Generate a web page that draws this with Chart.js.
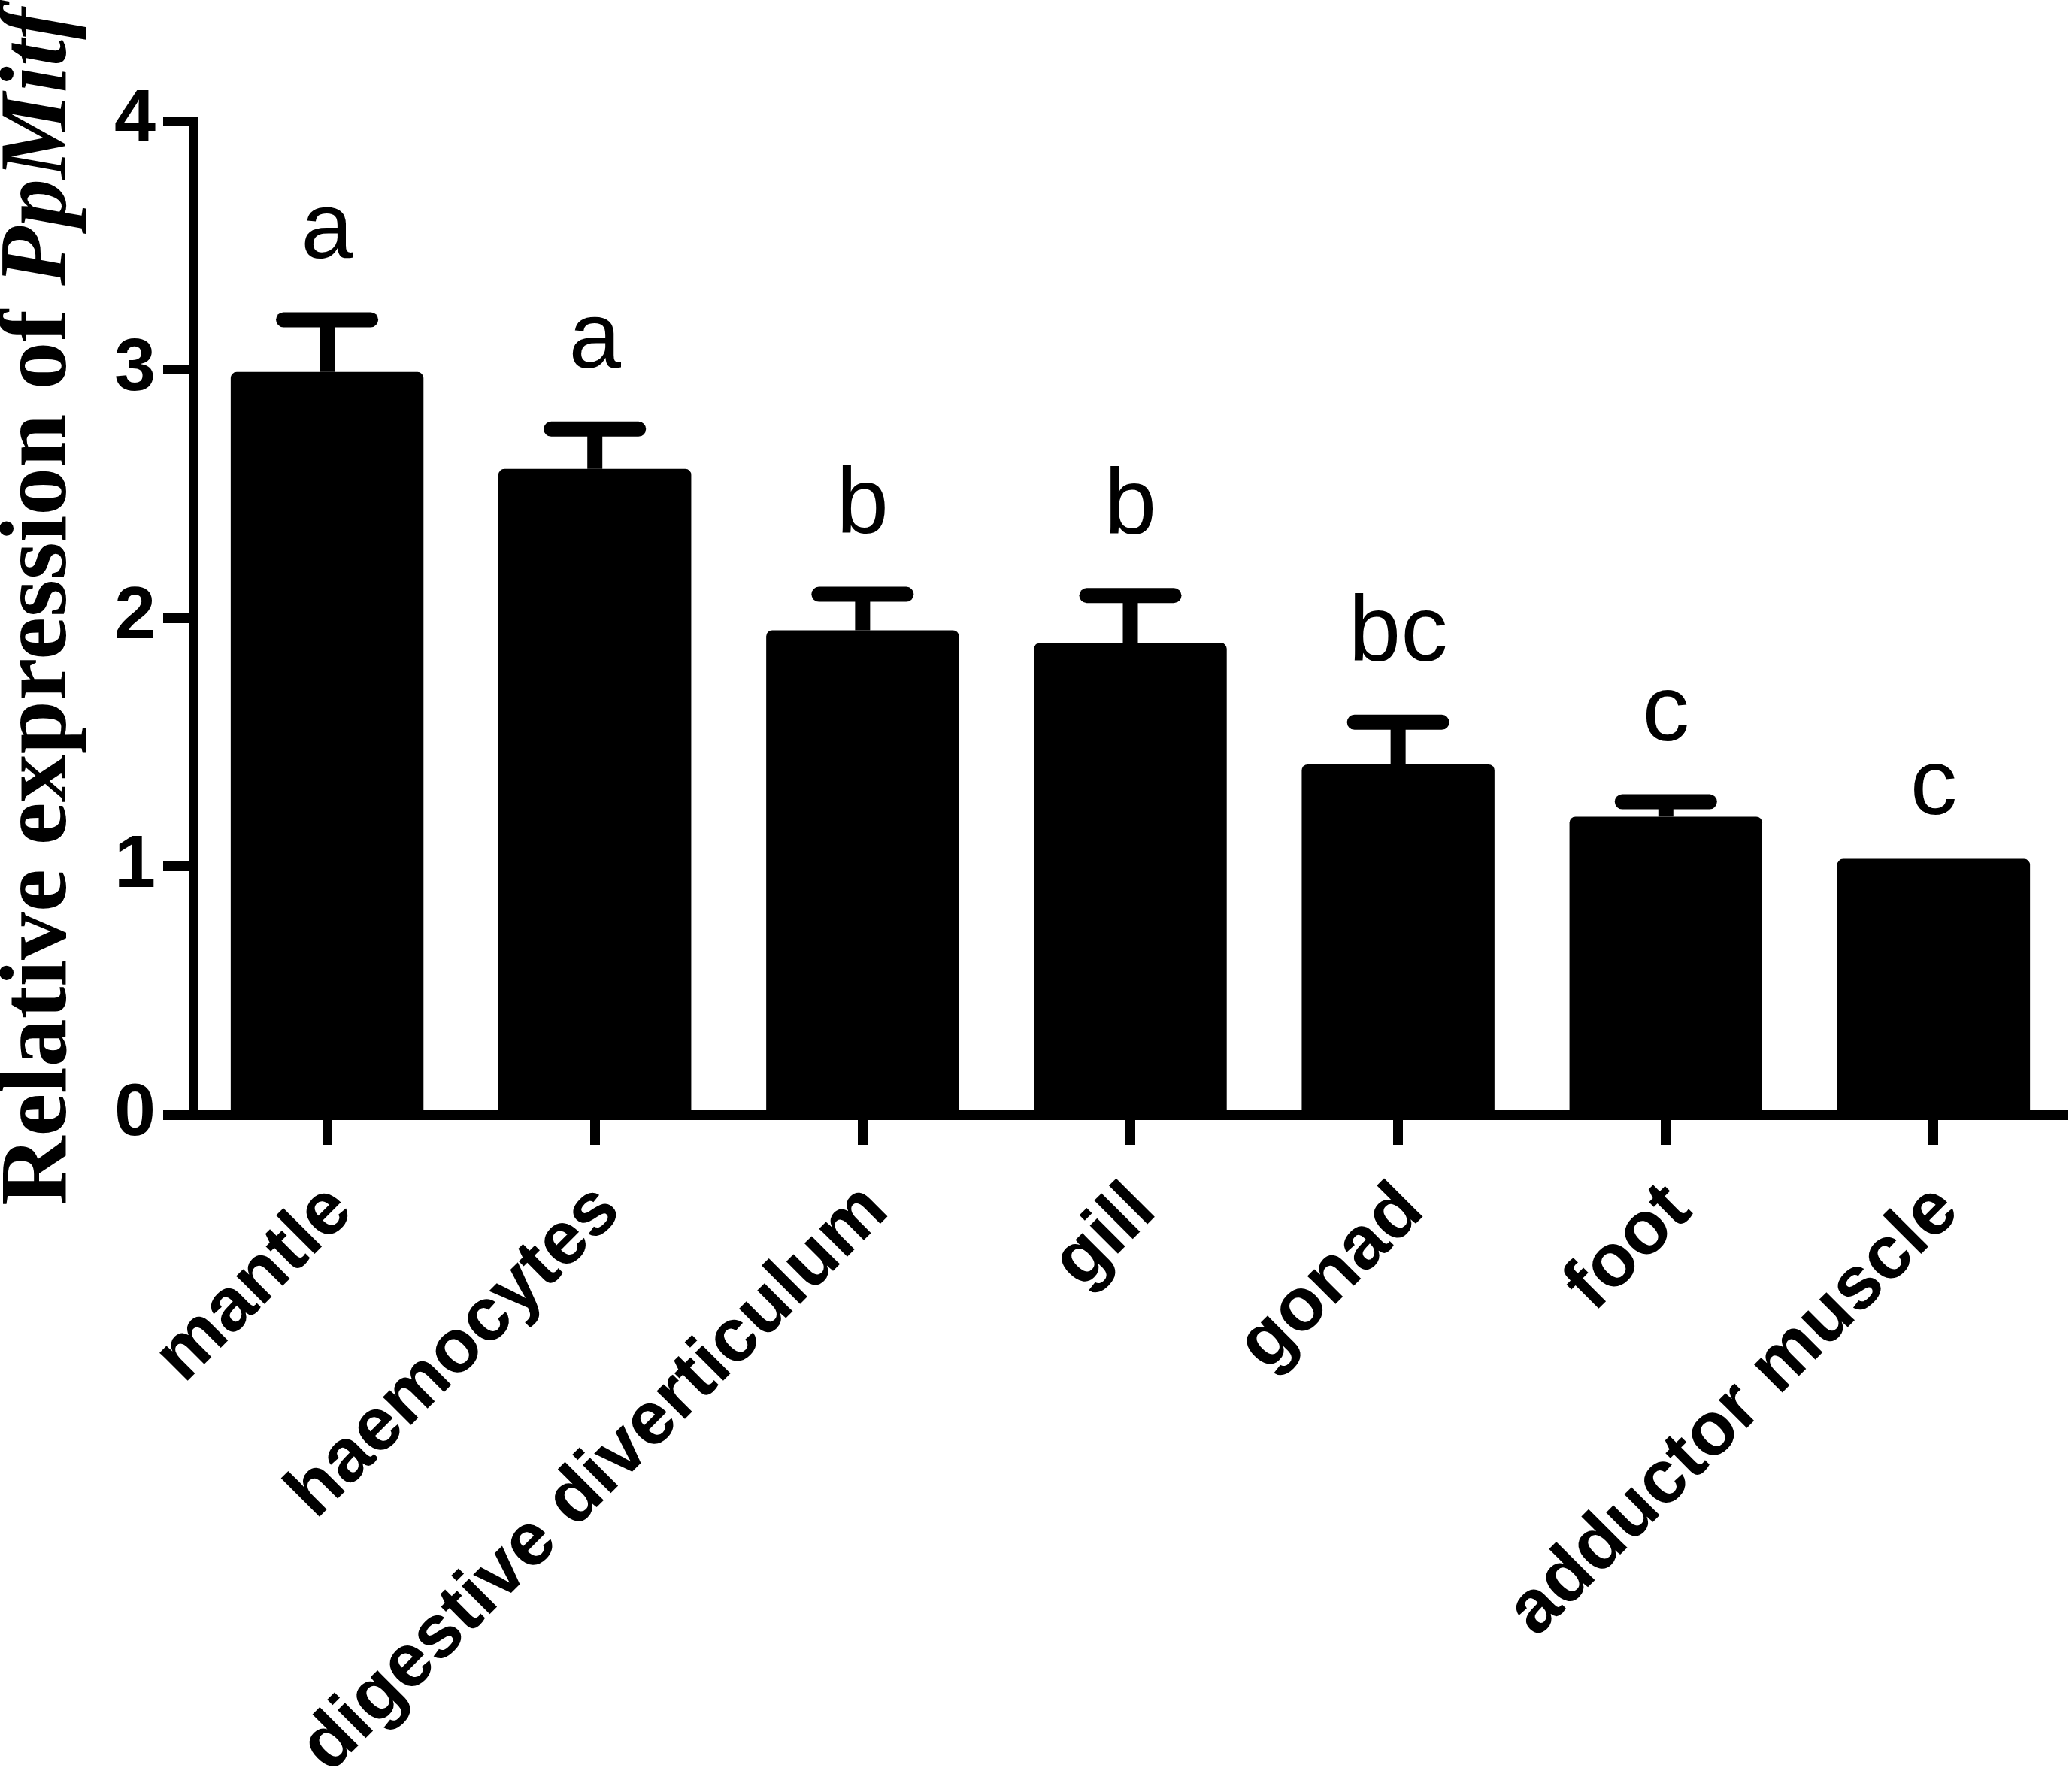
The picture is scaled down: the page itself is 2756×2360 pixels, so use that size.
<!DOCTYPE html>
<html>
<head>
<meta charset="utf-8">
<script src="https://cdn.jsdelivr.net/npm/chart.js@4.4.1/dist/chart.umd.min.js"></script>
<style>
  html, body { margin: 0; padding: 0; background: #fff; }
  #wrap { width: 2756px; height: 2360px; }
</style>
</head>
<body>
<div id="wrap"><canvas id="chart" width="2756" height="2360"></canvas></div>
<script>
// tissue distribution of PpMitf expression
const tissues = ['mantle', 'haemocytes', 'digestive diverticulum', 'gill', 'gonad', 'foot', 'adductor muscle'];
const means = [2.99, 2.60, 1.95, 1.90, 1.41, 1.20, 1.03];
const sds = [0.21, 0.16, 0.145, 0.19, 0.17, 0.06, 0];
const letters = ['a', 'a', 'b', 'b', 'bc', 'c', 'c'];
const yTicks = [0, 1, 2, 3, 4];
const titleMain = 'Relative expression of ';
const titleGene = 'PpMitf';

// error bars + significance letters on top of each bar
const errorBars = {
    id: 'errorBars',
    afterDatasetsDraw(chart) {
        const ctx = chart.ctx;
        const y = chart.scales.y;
        const meta = chart.getDatasetMeta(0);
        ctx.save();
        ctx.strokeStyle = '#000';
        ctx.fillStyle = '#000';
        ctx.lineWidth = 20;
        meta.data.forEach((bar, i) => {
            const top = y.getPixelForValue(means[i] + sds[i]);
            if (sds[i] > 0) {
                ctx.lineCap = 'butt';
                ctx.beginPath();
                ctx.moveTo(bar.x, bar.y);
                ctx.lineTo(bar.x, top);
                ctx.stroke();
                ctx.lineCap = 'round';
                ctx.beginPath();
                ctx.moveTo(bar.x - 58, top);
                ctx.lineTo(bar.x + 58, top);
                ctx.stroke();
            }
            ctx.font = '125px "Liberation Sans", Arial, sans-serif';
            ctx.textAlign = 'center';
            ctx.textBaseline = 'alphabetic';
            ctx.fillText(letters[i], bar.x, top - (sds[i] > 0 ? 82 : 60));
        });
        ctx.restore();
    }
};

// y title with the gene name in italics
const yTitle = {
    id: 'yTitle',
    afterDraw(chart) {
        const ctx = chart.ctx;
        const area = chart.chartArea;
        ctx.save();
        ctx.font = 'bold 128px "Liberation Serif", "Times New Roman", serif';
        const w1 = ctx.measureText(titleMain).width;
        ctx.font = 'italic bold 128px "Liberation Serif", "Times New Roman", serif';
        const w2 = ctx.measureText(titleGene).width;
        const mid = (area.top + area.bottom) / 2 - 15;
        ctx.translate(area.left - 170, mid + (w1 + w2) / 2);
        ctx.rotate(-Math.PI / 2);
        ctx.fillStyle = '#000';
        ctx.textAlign = 'left';
        ctx.textBaseline = 'alphabetic';
        ctx.font = 'bold 128px "Liberation Serif", "Times New Roman", serif';
        ctx.fillText(titleMain, 0, 0);
        ctx.font = 'italic bold 128px "Liberation Serif", "Times New Roman", serif';
        ctx.fillText(titleGene, w1, 0);
        ctx.restore();
    }
};

new Chart(document.getElementById('chart'), {
    type: 'bar',
    data: {
        labels: tissues,
        datasets: [{
            data: means,
            backgroundColor: '#000',
            borderWidth: 0,
            borderRadius: { topLeft: 8, topRight: 8, bottomLeft: 0, bottomRight: 0 },
            borderSkipped: false,
            categoryPercentage: 1,
            barPercentage: 0.72
        }]
    },
    options: {
        responsive: false,
        devicePixelRatio: 1,
        animation: false,
        layout: { padding: { top: 161, right: 6, left: 0, bottom: 0 } },
        plugins: {
            legend: { display: false },
            tooltip: { enabled: false }
        },
        scales: {
            x: {
                afterFit: s => { s.height = 877; },
                border: { display: true, color: '#000', width: 13 },
                grid: {
                    offset: false,
                    drawOnChartArea: false,
                    drawTicks: true,
                    tickLength: 40,
                    tickWidth: 13,
                    tickColor: '#000'
                },
                ticks: {
                    color: '#000',
                    autoSkip: false,
                    maxRotation: 45,
                    minRotation: 45,
                    padding: 29,
                    labelOffset: 18,
                    font: { family: '"Liberation Sans", Arial, sans-serif', size: 100, weight: 'bold' }
                }
            },
            y: {
                min: 0,
                max: 4,
                afterFit: s => { s.width = 257; },
                afterBuildTicks: s => { s.ticks = yTicks.map(v => ({ value: v })); },
                border: { display: true, color: '#000', width: 13 },
                grid: {
                    drawOnChartArea: false,
                    drawTicks: true,
                    tickLength: 40,
                    tickWidth: 13,
                    tickColor: '#000'
                },
                ticks: {
                    color: '#000',
                    padding: 10,
                    font: { family: '"Liberation Sans", Arial, sans-serif', size: 99, weight: 'bold' }
                }
            }
        }
    },
    plugins: [errorBars, yTitle]
});
</script>
</body>
</html>
